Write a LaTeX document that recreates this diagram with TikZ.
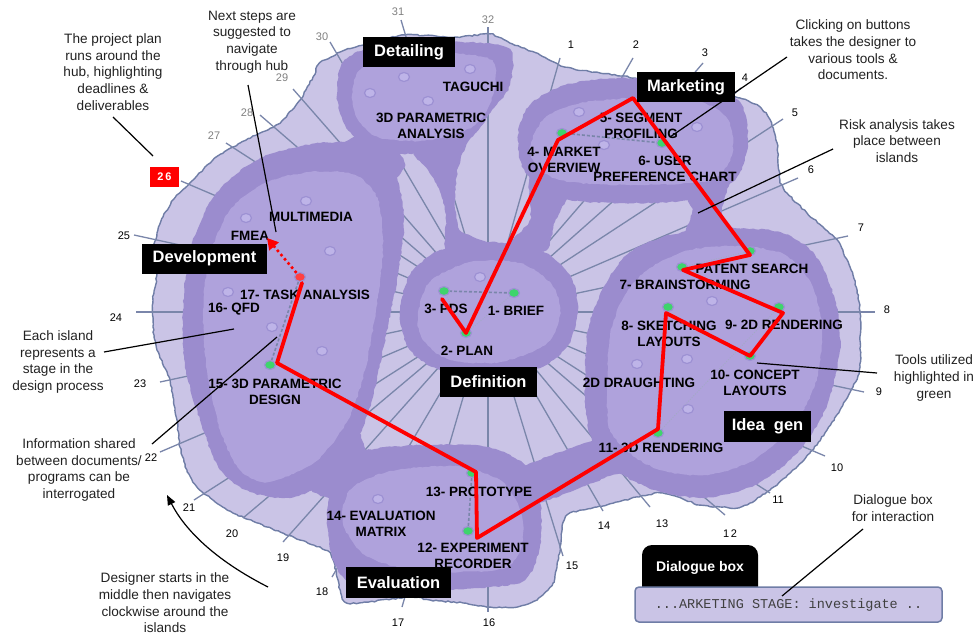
\documentclass[tikz,border=0pt]{standalone}
\usepackage{fontspec}
\setmainfont{Liberation Sans}
\setmonofont{Liberation Mono}
\usetikzlibrary{decorations.pathmorphing,arrows.meta,shapes.geometric}

\definecolor{land}{HTML}{CAC4E6}
\definecolor{band}{HTML}{9B8CCE}
\definecolor{isle}{HTML}{AFA2DC}
\definecolor{spoke}{HTML}{7A86AA}
\definecolor{coast}{HTML}{6F7DA6}
\definecolor{btnfill}{HTML}{BEB4E8}
\definecolor{btnring}{HTML}{9D91D3}
\definecolor{toolgreen}{HTML}{3ED46C}
\definecolor{notegray}{HTML}{222222}

\tikzset{
  rough/.style={decorate, decoration={random steps, segment length=3pt, amplitude=0.7pt}},
  bandfill/.style={fill=band, rough},
  corefill/.style={fill=isle, rough},
  tickline/.style={spoke, line width=1.3pt},
  num/.style={font=\fontsize{11}{12}\selectfont, inner sep=0, text=black},
  oldnum/.style={num, text=black!50},
  tool/.style={font=\fontsize{13.5}{16.5}\selectfont\bfseries, align=center, inner sep=0, text=black},
  stage/.style={fill=black, text=white, font=\fontsize{16.5}{18}\selectfont\bfseries, inner sep=0},
  note/.style={font=\fontsize{13.6}{16.6}\selectfont, align=center, inner sep=0, text=notegray},
  ptr/.style={black, line width=1.2pt},
  route/.style={red, line width=3.8pt, line join=round, line cap=round},
  btn/.style={ellipse, fill=btnfill, draw=btnring, line width=1.2pt, minimum width=11pt, minimum height=9pt, inner sep=0},
  usedbtn/.style={btn, fill=toolgreen},
  nowbtn/.style={btn, fill=red!75!white},
  link/.style={spoke, line width=1.6pt, dash pattern=on 3pt off 2pt},
  faintlink/.style={spoke!70, line width=0.8pt, dash pattern=on 1pt off 1.5pt},
}

\begin{document}
\begin{tikzpicture}[x=1pt,y=-1pt]
\useasboundingbox (0,0) rectangle (976,634);
\fill[white] (0,0) rectangle (976,634);

% ---------- the hub landmass ----------
\filldraw[fill=land, draw=coast, line width=1.4pt, rough]
  plot[smooth cycle, tension=0.35] coordinates {
  (320,63) (345,50) (375,42) (405,35) (457,37) (490,34) (510,43) (540,55)
  (565,67) (600,73) (635,78) (700,90) (740,98) (760,107) (770,120) (777,143)
  (780,180) (787,193) (807,213) (823,227) (837,240) (850,267) (857,290)
  (860,313) (860,367) (853,387) (840,410) (827,430) (810,453) (790,473)
  (770,490) (750,503) (737,508) (700,505) (660,493) (597,507) (570,513)
  (563,523) (560,547) (557,567) (553,583) (537,600) (517,607) (490,607)
  (463,603) (430,600) (410,597) (347,603) (338,580) (330,553) (300,540)
  (267,527) (233,513) (213,500) (197,487) (187,470) (180,447) (177,420)
  (173,397) (170,380) (157,350) (153,327) (153,300) (157,273) (153,253)
  (157,233) (163,217) (173,200) (193,180) (213,160) (240,143) (260,133)
  (280,123) (300,100) (313,77)};

% ---------- timeline spokes ----------
\coordinate (hub) at (488,312);
\foreach \x/\y in {560/58, 633/58, 703/63, 741/88, 783/119, 798/178, 848/236,
  875/312, 864/392, 825/456, 770/493, 725/515, 650/507, 603/511, 563/556,
  488/612, 402/607, 332/577, 283/542, 243/518, 194/500, 160/452, 160/382,
  136/312, 134/235, 181/181, 226/143, 260/115, 293/89, 330/42, 401/20, 488/27}
  \draw[tickline] (hub) -- (\x,\y);

% ---------- islands: outer bands ----------
% Detailing
\fill[bandfill] plot[smooth cycle, tension=0.5] coordinates {
  (337,95) (343,62) (375,47) (450,42) (508,48) (510,85) (492,110) (470,138)
  (420,153) (370,150) (345,125)};
% Marketing
\fill[bandfill] plot[smooth cycle, tension=0.5] coordinates {
  (518,135) (530,105) (565,85) (620,78) (690,85) (738,100) (748,140)
  (735,180) (690,200) (620,203) (560,198) (525,172)};
% Definition
\fill[bandfill] plot[smooth cycle, tension=0.5] coordinates {
  (400,315) (410,275) (440,250) (490,242) (540,250) (570,275) (578,310)
  (568,345) (540,368) (490,375) (440,370) (410,350)};
% Idea gen
\fill[bandfill] plot[smooth cycle, tension=0.5] coordinates {
  (585,400) (588,330) (605,285) (630,252) (670,235) (720,228) (780,232)
  (815,255) (835,300) (840,350) (825,410) (795,455) (755,485) (705,498)
  (655,490) (615,470) (592,440)};
% Development
\fill[bandfill] plot[smooth cycle, tension=0.5] coordinates {
  (183,310) (190,250) (215,195) (260,158) (320,143) (370,146) (395,172)
  (404,220) (398,275) (386,335) (372,400) (355,445) (325,482) (290,498)
  (250,492) (220,470) (200,420) (185,365)};
% Evaluation
\fill[bandfill] plot[smooth cycle, tension=0.5] coordinates {
  (327,520) (335,475) (360,452) (420,445) (487,447) (525,465) (540,500)
  (540,545) (525,580) (480,588) (420,590) (360,588) (335,565)};

% ---------- necks between islands ----------
% Detailing - Definition
\fill[bandfill] plot[smooth cycle, tension=0.4] coordinates {
  (415,150) (470,125) (486,118) (468,142) (458,168) (455,200) (460,230)
  (488,243) (470,253) (446,250) (446,215) (440,192) (428,170)};
% Marketing - Definition
\fill[bandfill] plot[smooth cycle, tension=0.4] coordinates {
  (530,175) (568,190) (555,222) (546,250) (508,246) (530,220)};
% Marketing - Idea gen
\fill[bandfill] plot[smooth cycle, tension=0.4] coordinates {
  (685,185) (728,178) (722,212) (732,242) (684,242) (692,212)};
% Evaluation - Idea gen
\fill[bandfill] plot[smooth cycle, tension=0.4] coordinates {
  (520,470) (560,452) (600,438) (640,420) (650,462) (610,476) (570,492) (535,502)};
% Development - Evaluation
\fill[bandfill] plot[smooth cycle, tension=0.4] coordinates {
  (318,440) (356,428) (368,470) (345,498) (312,490)};
% Development - Detailing
\fill[bandfill] plot[smooth cycle, tension=0.4] coordinates {
  (335,152) (360,135) (392,145) (405,165) (390,182) (350,172)};

% ---------- islands: inner cores ----------
\fill[corefill] plot[smooth cycle, tension=0.5] coordinates {
  (352,95) (360,70) (395,56) (460,54) (493,62) (493,95) (475,125) (430,140)
  (380,138) (357,118)};
\fill[corefill] plot[smooth cycle, tension=0.5] coordinates {
  (530,148) (545,118) (580,103) (640,98) (700,102) (728,120) (732,155)
  (710,180) (640,185) (570,182) (540,170)};
\fill[corefill] plot[smooth cycle, tension=0.5] coordinates {
  (418,315) (430,282) (470,262) (520,263) (552,285) (560,315) (545,345)
  (500,362) (450,360) (423,340)};
\fill[corefill] plot[smooth cycle, tension=0.5] coordinates {
  (607,400) (610,335) (625,295) (650,268) (690,250) (740,246) (785,255)
  (812,285) (822,330) (815,385) (790,430) (750,462) (705,475) (660,470)
  (628,452) (610,430)};
\fill[corefill] plot[smooth cycle, tension=0.5] coordinates {
  (203,310) (210,255) (230,210) (265,183) (310,172) (355,175) (378,200)
  (383,250) (376,310) (365,370) (348,420) (315,462) (268,482) (240,470)
  (220,430) (207,370)};
\fill[corefill] plot[smooth cycle, tension=0.5] coordinates {
  (343,523) (350,490) (387,472) (453,466) (500,480) (520,510) (522,545)
  (505,568) (460,572) (410,570) (365,555)};

% ---------- links between tools in use ----------
\draw[link] (444,291) -- (514,293);
\draw[faintlink] (514,293) -- (466,333) -- (444,291);
\draw[link] (562,133) -- (662,143);
\draw[faintlink] (682,267) -- (750,251);
\draw[faintlink] (779,307) -- (658,433);
\draw[link] (300,277) -- (270,365);
\draw[link] (472,473) -- (468,531);

% ---------- buttons ----------
\foreach \x/\y [count=\i] in {370/93, 404/77, 428/101, 470/69, 579/112, 604/145,
  697/127, 480/277, 712/301, 687/359, 637/364, 688/409, 246/218, 306/201,
  330/251, 228/292, 272/327, 322/351, 378/499}
  \node[btn] (b\i) at (\x,\y) {};
\foreach \x/\y [count=\i] in {562/133, 662/143, 444/291, 514/293, 466/333,
  750/251, 682/267, 668/307, 779/307, 750/356, 658/433, 270/365, 472/473, 468/531}
  \node[usedbtn] (g\i) at (\x,\y) {};
\node[nowbtn] (now) at (300,277) {};

% ---------- tool labels ----------
\node[tool] (taguchi) at (473,87) {TAGUCHI};
\node[tool] (pa) at (431,126) {3D PARAMETRIC\\ANALYSIS};
\node[tool] (seg) at (641,126) {5- SEGMENT\\PROFILING};
\node[tool] (mo) at (564,160) {4- MARKET\\OVERVIEW};
\node[tool] (upc) at (665,169) {6- USER\\PREFERENCE CHART};
\node[tool] (pds) at (446,309) {3- PDS};
\node[tool] (brief) at (516,311) {1- BRIEF};
\node[tool] (plan) at (467,351) {2- PLAN};
\node[tool] (patent) at (752,269) {PATENT SEARCH};
\node[tool] (brain) at (685,285) {7- BRAINSTORMING};
\node[tool] (sketch) at (669,334) {8- SKETCHING\\LAYOUTS};
\node[tool] (rend2) at (784,325) {9- 2D RENDERING};
\node[tool] (draught) at (639,383) {2D DRAUGHTING};
\node[tool] (concept) at (755,383) {10- CONCEPT\\LAYOUTS};
\node[tool] (rend3) at (661,448) {11- 3D RENDERING};
\node[tool] (multi) at (311,217) {MULTIMEDIA};
\node[tool] (fmea) at (250,236) {FMEA};
\node[tool] (task) at (305,295) {17- TASK ANALYSIS};
\node[tool] (qfd) at (234,309) {16- QFD};
\node[tool] (pd) at (275,392) {15- 3D PARAMETRIC\\DESIGN};
\node[tool] (proto) at (479,492) {13- PROTOTYPE};
\node[tool] (evm) at (381,524) {14- EVALUATION\\MATRIX};
\node[tool] (exp) at (473,556) {12- EXPERIMENT\\RECORDER};

% ---------- designer's route ----------
\draw[route] (442,299) -- (g5.center) -- (558,140) -- (633,98) -- (750,255)
  -- (683,270) -- (783,313) -- (750,356) -- (666,313) -- (658,429)
  -- (477,538) -- (476,472) -- (277,363) -- (302,283);
\draw[red, line width=2.6pt, dash pattern=on 2.5pt off 3pt,
  -{Triangle[length=11pt, width=12pt]}] (now) -- (267,238);

% ---------- stage titles ----------
\node[stage, minimum width=92pt, minimum height=30pt] (detailing) at (409,52) {Detailing};
\node[stage, minimum width=98pt, minimum height=30pt] (marketing) at (686,87) {Marketing};
\node[stage, minimum width=125pt, minimum height=30pt] (development) at (204.5,258.5) {Development};
\node[stage, minimum width=97pt, minimum height=30pt] (definition) at (488.5,382) {Definition};
\node[stage, minimum width=87pt, minimum height=31pt] (ideagen) at (767.5,426.5) {Idea\ \ gen};
\node[stage, minimum width=105pt, minimum height=31pt] (evaluation) at (398.5,582.5) {Evaluation};

% ---------- timeline numbers ----------
\foreach \n/\x/\y in {1/571/45, 2/636/45, 3/705/53, 4/745/78, 5/795/113,
  6/811/170, 7/861/228, 8/887/310, 9/879/392, 10/837/468, 11/778/500,
  13/662/524, 14/604/526, 15/572/566, 16/489/623, 17/398/623, 18/322/592,
  19/283/558, 20/232/534, 21/189/508, 22/151/458, 23/140/384, 24/116/318,
  25/124/236}
  \node[num] (t\n) at (\x,\y) {\n};
\node[num] (t12) at (730,534) {1\hspace{1.5pt}2};
\foreach \n/\x/\y in {27/214/136, 28/247/113, 29/282/78, 30/322/37, 31/398/12, 32/488/20}
  \node[oldnum] (t\n) at (\x,\y) {\n};
\node[fill=red, text=white, font=\fontsize{11}{12}\selectfont\bfseries,
  minimum width=29pt, minimum height=20pt, inner sep=0] (t26) at (164.5,177) {2\hspace{2pt}6};

% ---------- dialogue box ----------
\fill[black] (642,588) [rounded corners=10pt] -- (642,545) -- (758,545)
  [sharp corners] -- (758,588) -- cycle;
\node[text=white, font=\fontsize{14}{16}\selectfont\bfseries, inner sep=0] (dlgtab) at (700,568) {Dialogue box};
\node[draw=coast, fill=land, line width=1.5pt, rounded corners=4pt,
  minimum width=307pt, minimum height=35pt, inner sep=0,
  font=\fontsize{13.5}{15}\ttfamily, text=black!75] (dlg) at (788.5,604.5)
  {...ARKETING STAGE: investigate ..};

% ---------- annotations ----------
\node[note] (plannote) at (113,72) {The project plan\\runs around the\\hub, highlighting\\deadlines \&\\deliverables};
\node[note] (nextnote) at (252,42) {Next steps are\\suggested to\\navigate\\through hub};
\node[note] (clicknote) at (853,50) {Clicking on buttons\\takes the designer to\\various tools \&\\documents.};
\node[note] (risknote) at (897,141) {Risk analysis takes\\place between\\islands};
\node[note] (toolnote) at (934,378) {Tools utilized\\highlighted in\\green};
\node[note] (dlgnote) at (893,508) {Dialogue box\\for interaction};
\node[note] (islenote) at (58,362) {Each island\\represents a\\stage in the\\design process};
\node[note] (infonote) at (79,470) {Information shared\\between documents/\\programs can be\\interrogated};
\node[note] (startnote) at (165,603) {Designer starts in the\\middle then navigates\\clockwise around the\\islands};

\coordinate (planA) at (113,117);  \coordinate (planB) at (153,156);
\coordinate (nextA) at (248,85);   \coordinate (nextB) at (276,232);
\coordinate (clickA) at (787,57);  \coordinate (clickB) at (670,137);
\coordinate (riskA) at (833,149);  \coordinate (riskB) at (698,213);
\coordinate (toolA) at (877,373);  \coordinate (toolB) at (757,363);
\coordinate (dlgA) at (863,529);   \coordinate (dlgB) at (782,596);
\coordinate (isleA) at (104,352);  \coordinate (isleB) at (234,329);
\coordinate (infoA) at (152,444);  \coordinate (infoB) at (277,337);
\coordinate (startA) at (268,587); \coordinate (startB) at (167,495);

\draw[ptr] (planA) -- (planB);
\draw[ptr] (nextA) -- (nextB);
\draw[ptr] (clickA) -- (clickB);
\draw[ptr] (riskA) -- (riskB);
\draw[ptr] (toolA) -- (toolB);
\draw[ptr] (dlgA) -- (dlgB);
\draw[ptr] (isleA) -- (isleB);
\draw[ptr] (infoA) -- (infoB);
\draw[ptr, -{Triangle[length=10pt, width=8pt]}] (startA) .. controls (215,560) and (185,530) .. (startB);
\end{tikzpicture}
\end{document}
